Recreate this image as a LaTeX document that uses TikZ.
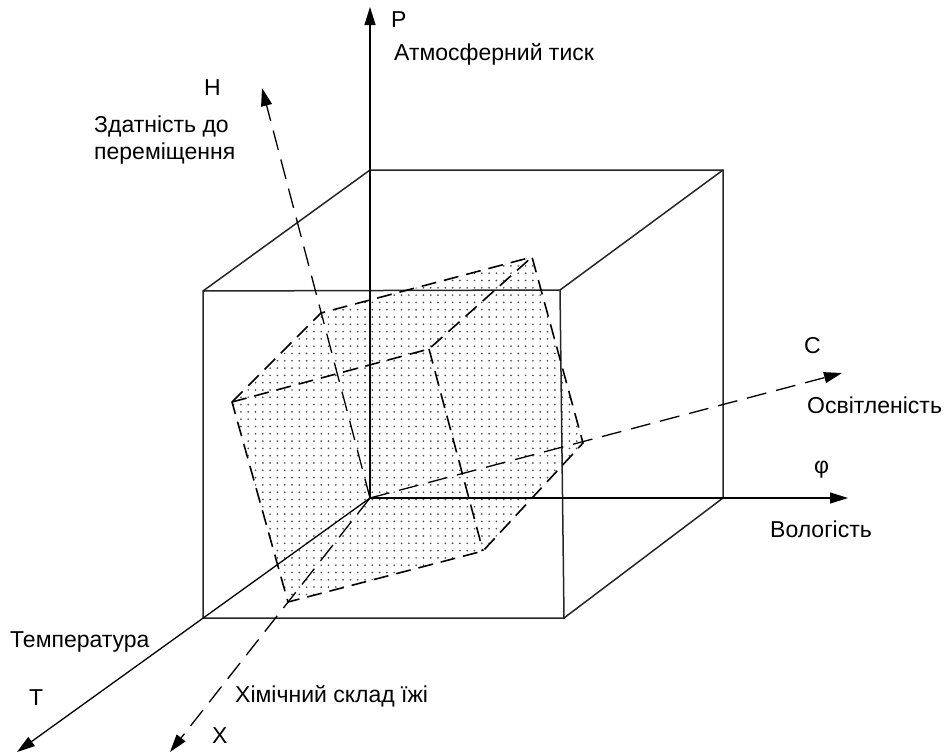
\documentclass[tikz,border=0pt]{standalone}
\usepackage{fontspec}
\setmainfont{Liberation Sans}
\usetikzlibrary{arrows.meta,patterns.meta}
\begin{document}
\begin{tikzpicture}[x=1pt,y=-1pt,
  ax/.style={line width=1.3pt,-{Triangle[length=18pt,width=11pt]}},
  dax/.style={ax,dash pattern=on 20pt off 10pt},
  cube/.style={line width=1.5pt,draw=black!85},
  hid/.style={line width=1.6pt,dash pattern=on 15pt off 8pt},
  lbl/.style={inner sep=0pt,anchor=base west,font=\fontsize{23}{27}\selectfont},
]
\useasboundingbox (0,0) rectangle (947,755);
% coordinates
\coordinate (O) at (370,498);
\coordinate (Ptip) at (370,7);
\coordinate (Htip) at (262,88);
\coordinate (Ctip) at (842,373);
\coordinate (Ftip) at (848,498);
\coordinate (Ttip) at (17,752);
\coordinate (Xtip) at (170,752);
% cube
\coordinate (ftl) at (203,291);
\coordinate (ftr) at (560,290);
\coordinate (fbr) at (564,618);
\coordinate (fbl) at (203,618);
\coordinate (btl) at (370,170);
\coordinate (btr) at (723,170);
\coordinate (bbr) at (723,498);
% tilted cube
\coordinate (A) at (232,402);
\coordinate (B) at (321,313);
\coordinate (Cc) at (532,257);
\coordinate (D) at (583,443);
\coordinate (E) at (483,551);
\coordinate (F) at (288,602);
\coordinate (G) at (429,349);
% fill
\path[pattern={Dots[distance=7.3pt,radius=0.95pt]},pattern color=black!70]
  (A) -- (B) -- (Cc) -- (D) -- (E) -- (F) -- cycle;
% cube edges
\draw[cube] (ftl) -- (ftr) -- (fbr) -- (fbl) -- cycle;
\draw[cube] (ftl) -- (btl) -- (btr) -- (bbr) -- (fbr);
\draw[cube] (ftr) -- (btr);
% hidden cube edges
\draw[hid] (A) -- (B) -- (Cc) -- (D) -- (E) -- (F) -- cycle;
\draw[hid] (A) -- (G) -- (Cc);
\draw[hid] (G) -- (E);
% axes
\draw[ax] (O) -- (Ptip);
\draw[ax] (O) -- (Ftip);
\draw[ax] (O) -- (Ttip);
\draw[dax] (O) -- (Htip);
\draw[dax] (O) -- (Ctip);
\draw[dax] (O) -- (Xtip);
% labels
\node[lbl] (lP) at (391,27) {P};
\node[lbl] (lPt) at (394,60) {Атмосферний тиск};
\node[lbl] (lH) at (204,95) {H};
\node[lbl,align=left,anchor=north west] (lHt) at (94,116) {Здатність до\\переміщення};
\node[lbl] (lC) at (804,353) {C};
\node[lbl] (lCt) at (807,413) {Освітленість};
\node[lbl] (lF) at (814,473) {φ};
\node[lbl] (lFt) at (770,537) {Вологість};
\node[lbl] (lTt) at (10,647) {Температура};
\node[lbl] (lT) at (29,705) {T};
\node[lbl] (lXt) at (235,702) {Хімічний склад їжі};
\node[lbl] (lX) at (212,743) {X};
\end{tikzpicture}
\end{document}
